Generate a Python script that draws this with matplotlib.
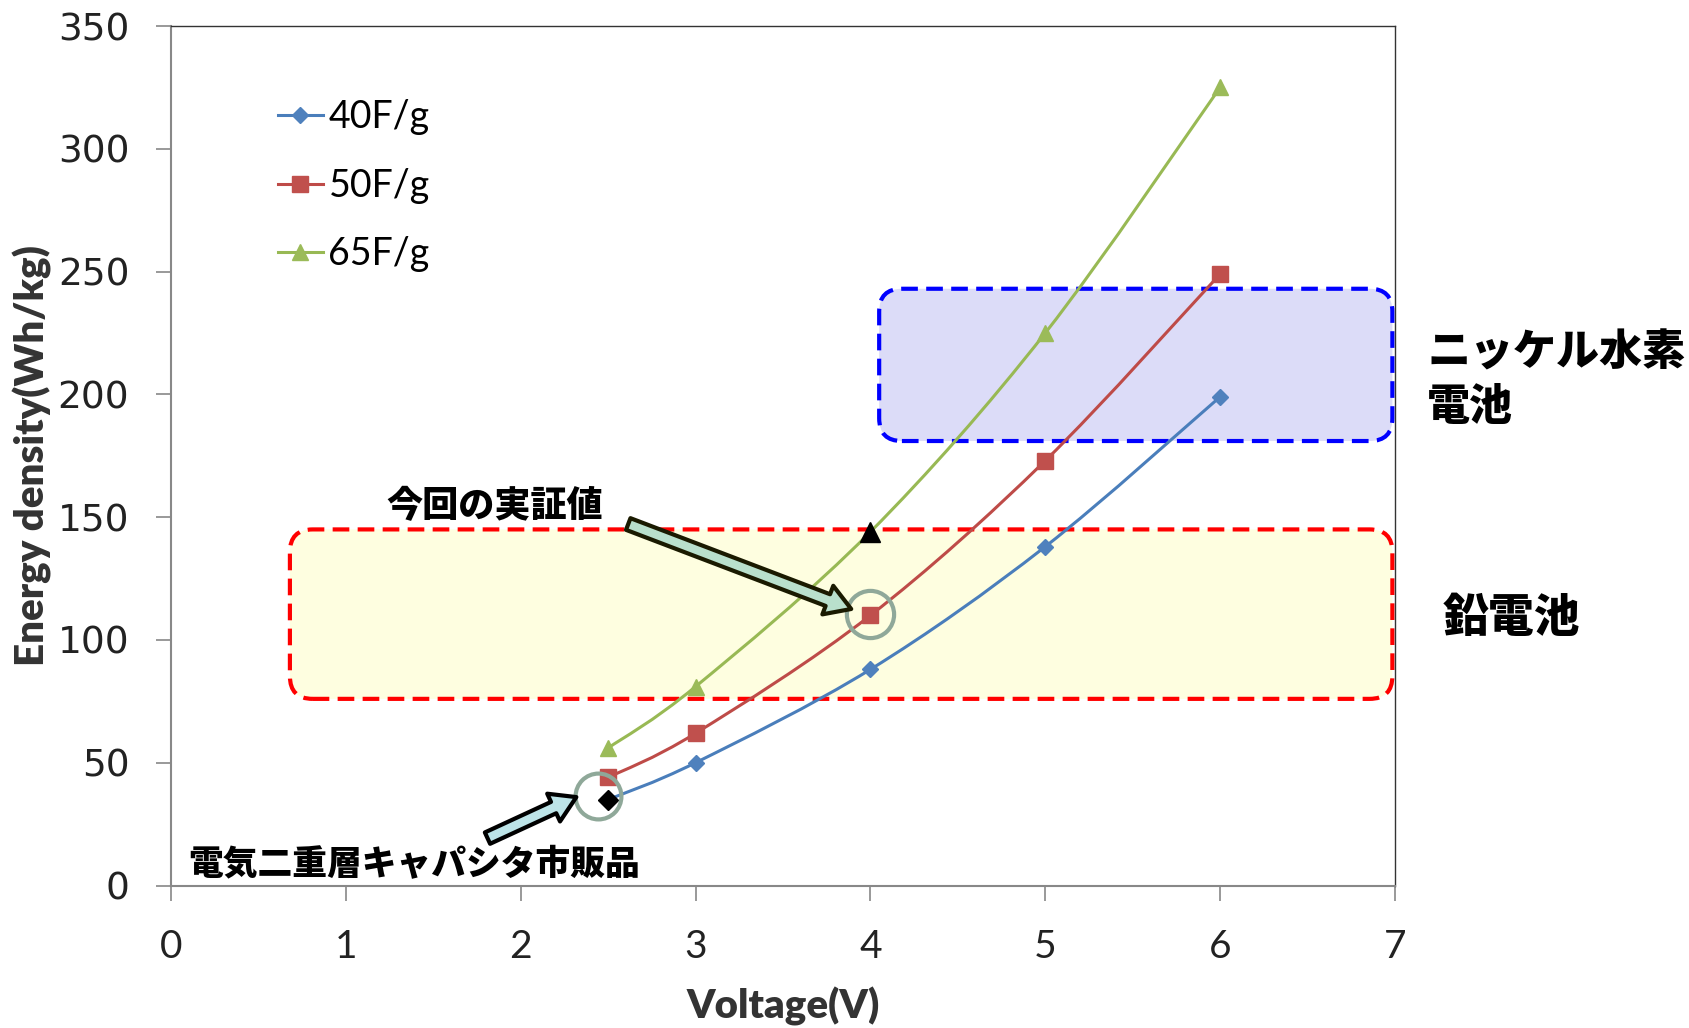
import numpy as np
import matplotlib.pyplot as plt
from matplotlib.patches import FancyBboxPatch, PathPatch
from matplotlib.path import Path

# energy density vs voltage for three capacitances
voltage = [2.5, 3, 4, 5, 6]
e_40 = [35, 50, 88, 138, 199]
e_50 = [44, 62, 110, 173, 249]
e_65 = [56, 81, 144, 225, 325]
series_labels = ['40F/g', '50F/g', '65F/g']

# highlighted points
commercial_pt = (2.5, 35)
demo_pt = (4, 144)

# reference battery ranges (x0, x1, y0, y1)
nimh_box = (4.05, 6.985, 181, 243)
lead_box = (0.68, 6.985, 76, 145)

plt.rcParams['font.family'] = ['Lato', 'DejaVu Sans']
jp = ['Noto Sans CJK JP', 'DejaVu Sans']


def smooth_path(xs, ys):
    # bezier through the points, like a spreadsheet "smoothed line"
    pts = np.column_stack([xs, ys]).astype(float)
    verts = [pts[0]]
    codes = [Path.MOVETO]
    n = len(pts)
    for i in range(n - 1):
        p0 = pts[i - 1] if i > 0 else pts[i]
        p1, p2 = pts[i], pts[i + 1]
        p3 = pts[i + 2] if i + 2 < n else pts[i + 1]
        verts += [p1 + (p2 - p0) / 6, p2 - (p3 - p1) / 6, p2]
        codes += [Path.CURVE4] * 3
    return Path(verts, codes)


W, H = 1689, 1028
fig = plt.figure(figsize=(W / 100, H / 100), dpi=100)
ax = fig.add_axes([171 / W, 1 - 885.5 / H, (1395 - 171) / W, (885.5 - 26) / H])
ax.set_xlim(0, 7)
ax.set_ylim(0, 350)

styles = [(e_40, '#4a7ebb', '#4f81bd', 'D', 8),
          (e_50, '#be4b48', '#c0504d', 's', 11),
          (e_65, '#98b954', '#9bbb59', '^', 11)]
for (vals, lc, mc, mk, ms), lab in zip(styles, series_labels):
    ax.add_patch(PathPatch(smooth_path(voltage, vals), fc='none', ec=lc, lw=2.2, zorder=3))
    ax.plot(voltage, vals, ls='none', marker=mk, ms=ms, mfc=mc, mec=mc, zorder=3)
    # legend proxy
    ax.plot([], [], color=lc, lw=2.2, marker=mk, ms=ms, mfc=mc, mec=mc, label=lab)

ax.plot(*commercial_pt, marker='D', ms=10, color='black', zorder=4)
ax.plot(*demo_pt, marker='^', ms=14, color='black', zorder=4)

# rounded dashed boxes
fig.canvas.draw()
p = ax.transData.transform([(0, 0), (1, 1)])
aspect = (p[1, 0] - p[0, 0]) / (p[1, 1] - p[0, 1])
for (x0, x1, y0, y1), fc, ec in [(lead_box, '#fefee0', '#ff0000'),
                                 (nimh_box, '#dcdcf8', '#0000ff')]:
    box = FancyBboxPatch((x0, y0), x1 - x0, y1 - y0,
                         boxstyle='round,pad=0,rounding_size=0.13',
                         mutation_aspect=aspect, fc=fc, ec=ec, lw=3,
                         ls=(0, (4, 2)), zorder=1)
    ax.add_patch(box)

# circles around points
ax.plot(4.0, 110.4, marker='o', ms=34, mfc='none', mec='#8fa899', mew=3, zorder=5)
ax.plot(2.44, 36.4, marker='o', ms=33, mfc='none', mec='#8fa899', mew=3, zorder=5)

# block arrows
ax.annotate('', xy=(3.89, 112.6), xytext=(2.615, 147.2),
            arrowprops=dict(arrowstyle='simple,head_length=0.9,head_width=1.1,tail_width=0.45',
                            fc='#b9e0cc', ec='#1a1a00', lw=3, shrinkA=0, shrinkB=0,
                            mutation_scale=20), zorder=6)
ax.annotate('', xy=(2.318, 36.0), xytext=(1.81, 19.3),
            arrowprops=dict(arrowstyle='simple,head_length=0.9,head_width=1.1,tail_width=0.45',
                            fc='#bde4e8', ec='black', lw=3, shrinkA=0, shrinkB=0,
                            mutation_scale=20), zorder=6)

# labels
fig.text(1427 / W, 1 - 380 / H, 'ニッケル水素\n電池', family=jp, weight='heavy',
         fontsize=31, va='center', ha='left', linespacing=1.3)
fig.text(1443 / W, 1 - 619 / H, '鉛電池', family=jp, weight='heavy',
         fontsize=33, va='center', ha='left')
fig.text(386 / W, 1 - 506 / H, '今回の実証値', family=jp, weight='heavy',
         fontsize=26, va='center', ha='left')
fig.text(188 / W, 1 - 865 / H, '電気二重層キャパシタ市販品', family=jp, weight='heavy',
         fontsize=25, va='center', ha='left')

# axes styling
ax.set_xticks(range(0, 8))
ax.set_yticks(range(0, 351, 50))
ax.tick_params(axis='x', labelsize=28, length=11, width=1.2, color='#888888',
               pad=20, labelcolor='#222222')
ax.tick_params(axis='y', labelsize=27, length=11, width=1.2, color='#888888',
               pad=19, labelcolor='#222222', labelfontfamily='DejaVu Sans')
for s in ['left', 'bottom']:
    ax.spines[s].set_color('#888888')
    ax.spines[s].set_linewidth(1.5)
for s in ['top', 'right']:
    ax.spines[s].set_color('#333333')
    ax.spines[s].set_linewidth(1)

ax.set_xlabel('Voltage(V)', fontsize=29, weight='heavy', color='#333333', labelpad=16)
ax.set_ylabel('Energy density(Wh/kg)', fontsize=29, weight='heavy', color='#333333', labelpad=4)

ax.legend(loc='upper left', bbox_to_anchor=(0.075, 0.932), frameon=False,
          fontsize=27, handlelength=1.2, handletextpad=0.15, labelspacing=0.86,
          borderaxespad=0)

fig.savefig('out.png', dpi=100)
